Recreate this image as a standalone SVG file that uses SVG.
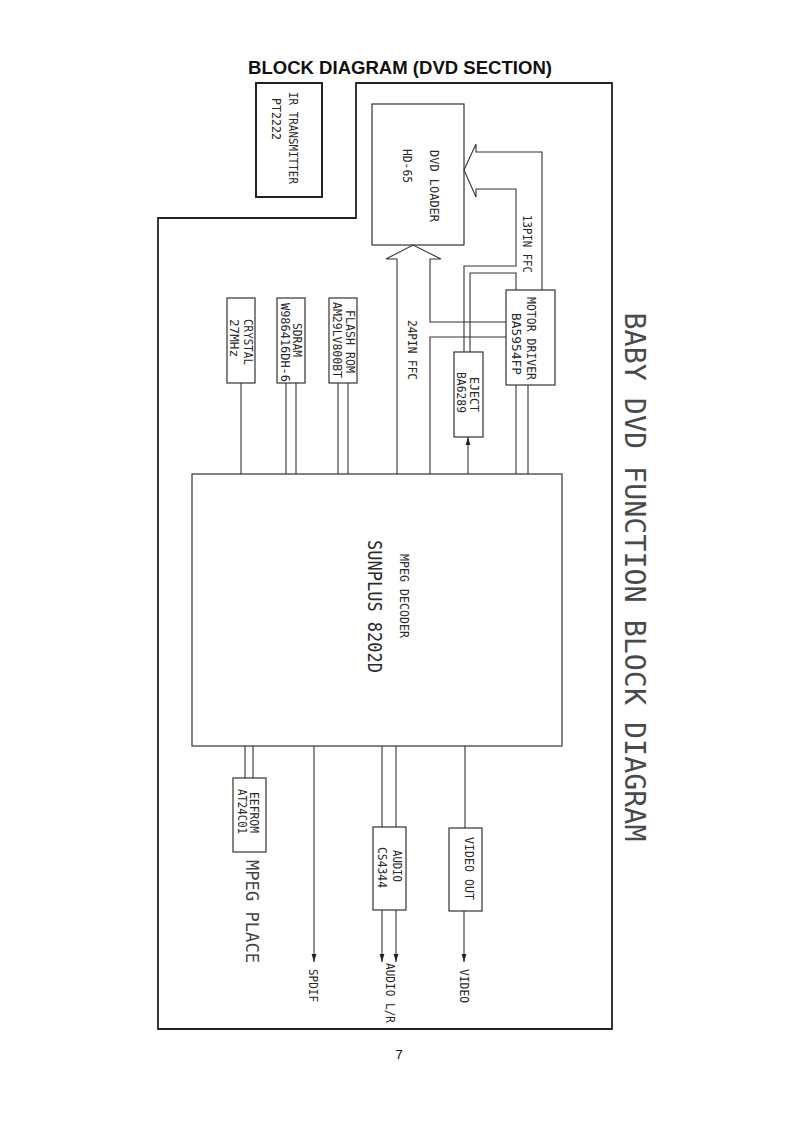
<svg xmlns="http://www.w3.org/2000/svg" width="792" height="1122" viewBox="0 0 792 1122">
<defs>
<marker id="ah" viewBox="0 0 8 8" refX="8" refY="4" markerWidth="8" markerHeight="8" markerUnits="userSpaceOnUse" orient="auto">
<path d="M0,1.6 L8,4 L0,6.4 Z" fill="#222"/>
</marker>
<style>
.bx{fill:none;stroke:#333;stroke-width:1.2}
.ln{fill:none;stroke:#333;stroke-width:1.1}
.t{font-family:"DejaVu Sans Mono","Liberation Mono",monospace;fill:#2a2a2a;text-anchor:middle;dominant-baseline:central;font-size:12.5px}
.title{font-family:"Liberation Sans",Arial,sans-serif;font-weight:bold;font-size:18px;fill:#111;text-anchor:middle}
</style>
</defs>
<rect width="792" height="1122" fill="#fff"/>
<text class="title" x="400" y="74" textLength="304" lengthAdjust="spacingAndGlyphs">BLOCK DIAGRAM (DVD SECTION)</text>
<text x="399" y="1059" style="font-family:'Liberation Sans',Arial,sans-serif;font-size:13px;fill:#111;text-anchor:middle">7</text>

<path d="M356,83 H612 V1029 H158 V218 H356 Z" fill="none" stroke="#222" stroke-width="1.8"/>
<text class="t" transform="translate(634,577) rotate(90)" style="font-size:28px;fill:#4a4a4a" textLength="529" lengthAdjust="spacingAndGlyphs">BABY DVD FUNCTION BLOCK DIAGRAM</text>

<g id="ir">
<rect x="256" y="83" width="66" height="114" fill="none" stroke="#222" stroke-width="2"/>
<text class="t" transform="translate(293,138) rotate(90)" textLength="92" lengthAdjust="spacingAndGlyphs">IR TRANSMITTER</text>
<text class="t" transform="translate(276.5,119) rotate(90)" textLength="42" lengthAdjust="spacingAndGlyphs">PT2222</text>
</g>

<g id="loader">
<rect class="bx" x="372" y="104" width="92" height="141"/>
<text class="t" transform="translate(434,186) rotate(90)" textLength="72" lengthAdjust="spacingAndGlyphs">DVD LOADER</text>
<text class="t" transform="translate(407,166) rotate(90)" textLength="34" lengthAdjust="spacingAndGlyphs">HD-65</text>
</g>

<g id="crystal">
<rect class="bx" x="227" y="298" width="28" height="85"/>
<text class="t" transform="translate(248,342) rotate(90)" textLength="46" lengthAdjust="spacingAndGlyphs">CRYSTAL</text>
<text class="t" transform="translate(234,338) rotate(90)" textLength="38" lengthAdjust="spacingAndGlyphs">27MHz</text>
</g>

<g id="sdram">
<rect class="bx" x="277" y="298" width="28" height="85"/>
<text class="t" transform="translate(297,340) rotate(90)" textLength="34" lengthAdjust="spacingAndGlyphs">SDRAM</text>
<text class="t" transform="translate(285,342.5) rotate(90)" textLength="79" lengthAdjust="spacingAndGlyphs">W986416DH-6</text>
</g>

<g id="flash">
<rect class="bx" x="329" y="298" width="28" height="85"/>
<text class="t" transform="translate(350,341.5) rotate(90)" textLength="63" lengthAdjust="spacingAndGlyphs">FLASH ROM</text>
<text class="t" transform="translate(337.5,340) rotate(90)" textLength="76" lengthAdjust="spacingAndGlyphs">AM29LV800BT</text>
</g>

<g id="motor">
<rect class="bx" x="506" y="290" width="49" height="95"/>
<text class="t" transform="translate(531,338.5) rotate(90)" textLength="83" lengthAdjust="spacingAndGlyphs">MOTOR DRIVER</text>
<text class="t" transform="translate(516,344) rotate(90)" textLength="62" lengthAdjust="spacingAndGlyphs">BA5954FP</text>
</g>

<g id="eject">
<rect class="bx" x="454" y="352" width="29" height="85"/>
<text class="t" transform="translate(474,394.5) rotate(90)" textLength="35" lengthAdjust="spacingAndGlyphs">EJECT</text>
<text class="t" transform="translate(461,392.5) rotate(90)" textLength="41" lengthAdjust="spacingAndGlyphs">BA6289</text>
</g>

<g id="mpeg">
<rect class="bx" x="192" y="474" width="370" height="272"/>
<text class="t" transform="translate(404,596) rotate(90)" textLength="84" lengthAdjust="spacingAndGlyphs">MPEG DECODER</text>
<text class="t" transform="translate(375,606.5) rotate(90)" style="font-size:19px" textLength="133" lengthAdjust="spacingAndGlyphs">SUNPLUS 8202D</text>
</g>

<g id="eeprom">
<rect class="bx" x="233" y="778" width="33" height="74"/>
<text class="t" transform="translate(254,812.5) rotate(90)" textLength="41" lengthAdjust="spacingAndGlyphs">EEFROM</text>
<text class="t" transform="translate(242,811.5) rotate(90)" textLength="45" lengthAdjust="spacingAndGlyphs">AT24C01</text>
<text class="t" transform="translate(252,911.5) rotate(90)" style="font-size:17px;fill:#444" textLength="103" lengthAdjust="spacingAndGlyphs">MPEG PLACE</text>
</g>

<g id="audio">
<rect class="bx" x="373" y="827" width="33" height="83"/>
<text class="t" transform="translate(397.5,866) rotate(90)" textLength="32" lengthAdjust="spacingAndGlyphs">AUDIO</text>
<text class="t" transform="translate(382.5,867.5) rotate(90)" textLength="41" lengthAdjust="spacingAndGlyphs">CS4344</text>
</g>

<g id="video">
<rect class="bx" x="449" y="828" width="33" height="83"/>
<text class="t" transform="translate(469,868.5) rotate(90)" textLength="63" lengthAdjust="spacingAndGlyphs">VIDEO OUT</text>
</g>

<g id="connectors">
<line class="ln" x1="241" y1="383" x2="241" y2="474"/>
<line class="ln" x1="286" y1="383" x2="286" y2="474"/>
<line class="ln" x1="296" y1="383" x2="296" y2="474"/>
<line class="ln" x1="338" y1="383" x2="338" y2="474"/>
<line class="ln" x1="348" y1="383" x2="348" y2="474"/>
<path class="ln" d="M397,474 V259 H386 L413,245 L441,259 H430 V322 H506"/>
<path class="ln" d="M430,474 V337 H506"/>
<path class="ln" d="M542,290 V152 H476 V144 L464,170 L476,197 V189 H516 V266 H464 V352"/>
<path class="ln" d="M516,290 V273 H470 V352"/>
<line class="ln" x1="516" y1="385" x2="516" y2="474"/>
<line class="ln" x1="528" y1="385" x2="528" y2="474"/>
<line class="ln" x1="468" y1="474" x2="468" y2="437" marker-end="url(#ah)"/>
<line class="ln" x1="245" y1="746" x2="245" y2="778"/>
<line class="ln" x1="253" y1="746" x2="253" y2="778"/>
<line class="ln" x1="314" y1="746" x2="314" y2="962" marker-end="url(#ah)"/>
<line class="ln" x1="382" y1="746" x2="382" y2="827"/>
<line class="ln" x1="396" y1="746" x2="396" y2="827"/>
<line class="ln" x1="382" y1="910" x2="382" y2="962" marker-end="url(#ah)"/>
<line class="ln" x1="396" y1="910" x2="396" y2="962" marker-end="url(#ah)"/>
<line class="ln" x1="465" y1="746" x2="465" y2="828"/>
<line class="ln" x1="464" y1="911" x2="464" y2="962" marker-end="url(#ah)"/>
<text class="t" transform="translate(527,244) rotate(90)" textLength="58" lengthAdjust="spacingAndGlyphs">13PIN FFC</text>
<text class="t" transform="translate(412,350) rotate(90)" textLength="60" lengthAdjust="spacingAndGlyphs">24PIN FFC</text>
<text class="t" transform="translate(313.5,985.5) rotate(90)" textLength="33" lengthAdjust="spacingAndGlyphs">SPDIF</text>
<text class="t" transform="translate(390,993) rotate(90)" textLength="60" lengthAdjust="spacingAndGlyphs">AUDIO L/R</text>
<text class="t" transform="translate(464.5,986) rotate(90)" textLength="34" lengthAdjust="spacingAndGlyphs">VIDEO</text>
</g>
</svg>
